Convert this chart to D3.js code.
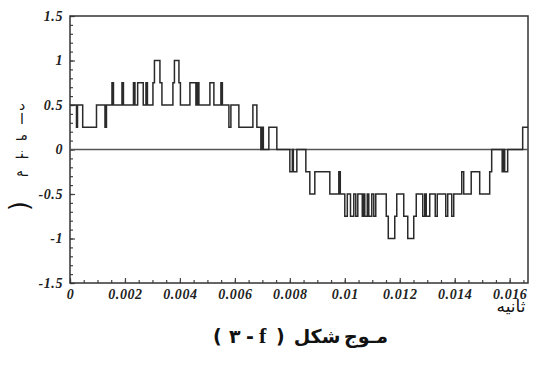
<!DOCTYPE html>
<html>
<head>
<meta charset="utf-8">
<script src="https://cdn.jsdelivr.net/npm/d3@7"></script>
<style>
  body { margin: 0; background: #fff; }
  svg { display: block; }
  .tick-label { font-family: "Liberation Serif", serif; font-weight: bold; font-style: italic; font-size: 14px; fill: #222; letter-spacing: 0.6px; }
  .fa { font-family: "DejaVu Sans", sans-serif; fill: #111; }
</style>
</head>
<body>
<div id="chart"></div>
<script>
// step waveform: time (s) where each level starts, and its level
const stepTimes = [
  0, 0.000236, 0.000273, 0.000462, 0.000964, 0.001273, 0.001327, 0.001527, 0.001582, 0.001891,
  0.001945, 0.002309, 0.002364, 0.002462, 0.002665, 0.002764, 0.002818, 0.003018, 0.003073, 0.003273,
  0.003345, 0.003745, 0.0038, 0.003964, 0.004018, 0.004364, 0.004582, 0.004636, 0.004691, 0.005091,
  0.005236, 0.005491, 0.005545, 0.005782, 0.005855, 0.006145, 0.006655, 0.0068, 0.006945, 0.007,
  0.007036, 0.007236, 0.007527, 0.008, 0.008091, 0.008127, 0.008255, 0.008582, 0.008727, 0.008909,
  0.009455, 0.009782, 0.009836, 0.01, 0.010091, 0.010207, 0.010327, 0.0104, 0.010473, 0.010636,
  0.010673, 0.010727, 0.010818, 0.010873, 0.010982, 0.011055, 0.011127, 0.011509, 0.011582, 0.011818,
  0.011891, 0.012145, 0.012291, 0.012509, 0.0126, 0.012836, 0.012909, 0.012964, 0.013091, 0.013291,
  0.013364, 0.013673, 0.013745, 0.013891, 0.013964, 0.014255, 0.014327, 0.0146, 0.014909, 0.015273,
  0.015345, 0.015727, 0.015782, 0.015818, 0.015927, 0.016473
];
const stepLevels = [
  0.5, 0.25, 0.5, 0.25, 0.5, 0.25, 0.5, 0.75, 0.5, 0.75,
  0.5, 0.75, 0.5, 0.75, 0.5, 0.75, 0.5, 0.75, 1, 0.75,
  0.5, 0.75, 1, 0.75, 0.5, 0.75, 0.5, 0.75, 0.5, 0.75,
  0.5, 0.75, 0.5, 0.25, 0.5, 0.25, 0.5, 0.25, 0, 0.25,
  0, 0.25, 0, -0.25, 0, -0.25, 0, -0.25, -0.5, -0.25,
  -0.5, -0.25, -0.5, -0.75, -0.5, -0.75, -0.5, -0.75, -0.5, -0.75,
  -0.5, -0.75, -0.5, -0.75, -0.5, -0.75, -0.5, -0.75, -1, -0.75,
  -0.5, -0.75, -1, -0.75, -0.5, -0.75, -0.5, -0.75, -0.5, -0.75,
  -0.5, -0.75, -0.5, -0.75, -0.5, -0.25, -0.5, -0.25, -0.5, -0.25,
  0, -0.25, 0, -0.25, 0, 0.25
];
const tEnd = 1 / 60;

const xTicks = [0, 0.002, 0.004, 0.006, 0.008, 0.01, 0.012, 0.014, 0.016];
const xTickLabels = ['0', '0.002', '0.004', '0.006', '0.008', '0.01', '0.012', '0.014', '0.016'];
const yTicks = [1.5, 1, 0.5, 0, -0.5, -1, -1.5];
const yTickLabels = ['1.5', '1', '0.5', '0', '-0.5', '-1', '-1.5'];

const yLabelChars = ['د', 'ا', 'مـ', 'ـنـ', 'ـه'];
const yLabelParen = '(';
const xLabel = 'ثانیه';
const titleCode = ['(', '۳', '-', 'f', ')'];
const titleWords = ['شکل', 'مـوج'];

const width = 541;
const height = 365;
const plot = {left: 70, right: 528, top: 16, bottom: 283};

const svg = d3.select('#chart').append('svg')
  .attr('width', width)
  .attr('height', height);

svg.append('rect').attr('width', width).attr('height', height).attr('fill', '#fff');

const x = d3.scaleLinear().domain([0, tEnd]).range([plot.left, plot.right]);
const y = d3.scaleLinear().domain([-1.5, 1.5]).range([plot.bottom, plot.top]);

// minor ticks (inward, no labels)
svg.append('g')
  .attr('transform', `translate(${plot.left},0)`)
  .call(d3.axisLeft(y).tickValues(d3.range(-1.5, 1.51, 0.1)).tickSize(-3).tickFormat(''))
  .call(g => g.select('.domain').remove());
svg.append('g')
  .attr('transform', `translate(0,${plot.bottom})`)
  .call(d3.axisBottom(x).tickValues(d3.range(0, tEnd, 0.0005)).tickSize(-3).tickFormat(''))
  .call(g => g.select('.domain').remove());

// major ticks with labels
svg.append('g')
  .attr('transform', `translate(${plot.left},0)`)
  .call(d3.axisLeft(y).tickValues(yTicks).tickSize(-5).tickPadding(7)
    .tickFormat((d, i) => yTickLabels[i]))
  .call(g => g.select('.domain').remove())
  .call(g => g.selectAll('text').attr('class', 'tick-label'));
svg.append('g')
  .attr('transform', `translate(0,${plot.bottom})`)
  .call(d3.axisBottom(x).tickValues(xTicks).tickSize(-5).tickPadding(6)
    .tickFormat((d, i) => xTickLabels[i]))
  .call(g => g.select('.domain').remove())
  .call(g => g.selectAll('text').attr('class', 'tick-label'));

svg.selectAll('.tick line').attr('stroke', '#444').attr('stroke-width', 1.2);

// frame and zero line
svg.append('rect')
  .attr('x', plot.left).attr('y', plot.top)
  .attr('width', plot.right - plot.left).attr('height', plot.bottom - plot.top)
  .attr('fill', 'none').attr('stroke', '#333').attr('stroke-width', 1.5);
svg.append('line')
  .attr('x1', plot.left).attr('x2', plot.right)
  .attr('y1', y(0)).attr('y2', y(0))
  .attr('stroke', '#555').attr('stroke-width', 1.5);

// the waveform
const pts = stepTimes.map((t, i) => [t, stepLevels[i]]);
pts.push([tEnd, stepLevels[stepLevels.length - 1]]);
const line = d3.line()
  .x(d => x(d[0]))
  .y(d => y(d[1]))
  .curve(d3.curveStepAfter);
svg.append('path')
  .datum(pts)
  .attr('d', line)
  .attr('fill', 'none')
  .attr('stroke', '#2a2a2a')
  .attr('stroke-width', 1.5);

// y label: glyphs stacked top to bottom, the bracket turned on its side
const yLabelPos = [110, 124, 140, 158, 176];
svg.append('g').selectAll('text')
  .data(yLabelChars)
  .join('text')
  .attr('class', 'fa')
  .attr('x', 22)
  .attr('y', (d, i) => yLabelPos[i])
  .attr('text-anchor', 'middle')
  .attr('font-size', 14)
  .text(d => d);
svg.append('text')
  .attr('class', 'fa')
  .attr('transform', 'translate(21,206) rotate(90)')
  .attr('text-anchor', 'middle')
  .attr('dy', '0.35em')
  .attr('font-size', 26)
  .text(yLabelParen);

// x label
svg.append('text')
  .attr('class', 'fa')
  .attr('x', 511).attr('y', 312)
  .attr('text-anchor', 'middle')
  .attr('font-size', 17)
  .text(xLabel);

// title: the code spread out glyph by glyph, then the two words
const titleCodeX = [213, 229, 246, 259, 276];
svg.append('g').selectAll('text')
  .data(titleCode)
  .join('text')
  .attr('class', 'fa')
  .attr('x', (d, i) => titleCodeX[i])
  .attr('y', 343)
  .attr('font-size', (d, i) => i === 3 ? 22 : 19)
  .attr('font-weight', 'bold')
  .style('font-family', (d, i) => i === 3 ? '"Liberation Serif", serif' : null)
  .text(d => d);

svg.append('text')
  .attr('class', 'fa')
  .attr('x', 317).attr('y', 343)
  .attr('text-anchor', 'middle')
  .attr('font-size', 19).attr('font-weight', 'bold')
  .text(titleWords[0]);
svg.append('text')
  .attr('class', 'fa')
  .attr('x', 366).attr('y', 343)
  .attr('text-anchor', 'middle')
  .attr('font-size', 19).attr('font-weight', 'bold')
  .text(titleWords[1]);
</script>
</body>
</html>
